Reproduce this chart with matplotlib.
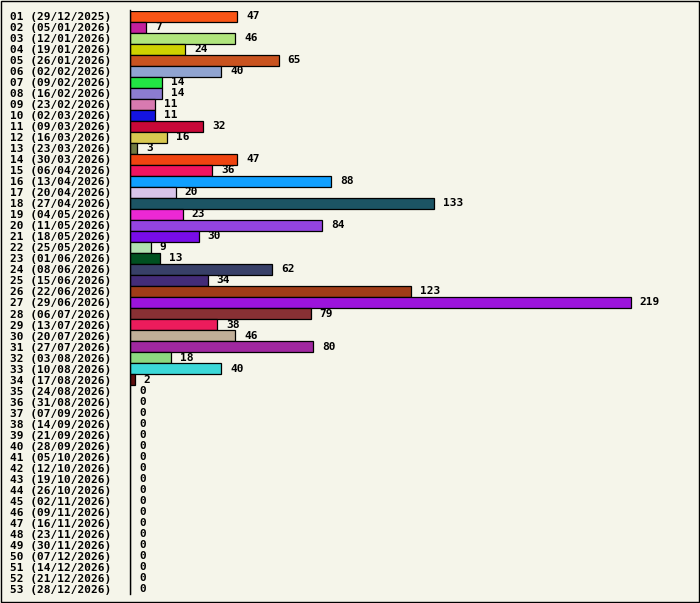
import matplotlib
matplotlib.use("Agg")
import matplotlib.pyplot as plt
from matplotlib.patches import Rectangle

# weekly counts, week 01 .. 53
weeks = ["01 (29/12/2025)", "02 (05/01/2026)", "03 (12/01/2026)", "04 (19/01/2026)",
         "05 (26/01/2026)", "06 (02/02/2026)", "07 (09/02/2026)", "08 (16/02/2026)",
         "09 (23/02/2026)", "10 (02/03/2026)", "11 (09/03/2026)", "12 (16/03/2026)",
         "13 (23/03/2026)", "14 (30/03/2026)", "15 (06/04/2026)", "16 (13/04/2026)",
         "17 (20/04/2026)", "18 (27/04/2026)", "19 (04/05/2026)", "20 (11/05/2026)",
         "21 (18/05/2026)", "22 (25/05/2026)", "23 (01/06/2026)", "24 (08/06/2026)",
         "25 (15/06/2026)", "26 (22/06/2026)", "27 (29/06/2026)", "28 (06/07/2026)",
         "29 (13/07/2026)", "30 (20/07/2026)", "31 (27/07/2026)", "32 (03/08/2026)",
         "33 (10/08/2026)", "34 (17/08/2026)", "35 (24/08/2026)", "36 (31/08/2026)",
         "37 (07/09/2026)", "38 (14/09/2026)", "39 (21/09/2026)", "40 (28/09/2026)",
         "41 (05/10/2026)", "42 (12/10/2026)", "43 (19/10/2026)", "44 (26/10/2026)",
         "45 (02/11/2026)", "46 (09/11/2026)", "47 (16/11/2026)", "48 (23/11/2026)",
         "49 (30/11/2026)", "50 (07/12/2026)", "51 (14/12/2026)", "52 (21/12/2026)",
         "53 (28/12/2026)"]

counts = [47, 7, 46, 24, 65, 40, 14, 14, 11, 11, 32, 16, 3, 47, 36, 88, 20, 133,
          23, 84, 30, 9, 13, 62, 34, 123, 219, 79, 38, 46, 80, 18, 40, 2,
          0, 0, 0, 0, 0, 0, 0, 0, 0, 0, 0, 0, 0, 0, 0, 0, 0, 0, 0]

colours = ["#f95516", "#c4209c", "#b0e57c", "#cfd200", "#c9531f", "#90a4d0",
           "#22e644", "#8c7cd0", "#d87ab0", "#1414e0", "#c80838", "#d8c850",
           "#707840", "#f04410", "#f01460", "#10a0ff", "#d8c4e8", "#1c5464",
           "#ec28d4", "#9444e0", "#780ce8", "#b0e0b0", "#005020", "#384068",
           "#442c78", "#a03c18", "#9c14dc", "#883034", "#ec1c5c", "#c0ae98",
           "#a028a0", "#8cd880", "#3cd8d8", "#601010"]
colours = colours + ["#000000"] * (len(counts) - len(colours))

BG = "#f5f5ea"
W, H = 700, 603

fig = plt.figure(figsize=(W / 100, H / 100), dpi=100, facecolor=BG)
# axes placed in pixel terms: zero line at x=130, rows from y=10.5 to 594.5
ax = fig.add_axes([130 / W, (H - 594.5) / H, 560.3 / W, 584 / H])
ax.set_facecolor(BG)

ypos = list(range(len(counts)))
bars = ax.barh(ypos, counts, height=1.0, color=colours,
               edgecolor="black", linewidth=0.9)

ax.set_xlim(0, 245)
ax.set_ylim(len(counts) - 0.5, -0.5)

for side in ["top", "right", "bottom"]:
    ax.spines[side].set_visible(False)
ax.spines["left"].set_linewidth(1.0)
ax.spines["left"].set_color("black")

ax.set_xticks([])
ax.set_yticks(ypos)
ax.set_yticklabels(weeks, family="DejaVu Sans Mono", fontweight="bold",
                   fontsize=8.0, ha="left")
ax.tick_params(axis="y", length=0, pad=86.4)

ax.bar_label(bars, labels=[str(v) for v in counts], padding=6.5,
             family="DejaVu Sans Mono", fontweight="bold", fontsize=8.0)

# outer frame
fig.patches.append(Rectangle((0.5 / W, 1.5 / H), 698 / W, 601 / H,
                             transform=fig.transFigure, fill=False,
                             edgecolor="black", linewidth=1.0))

fig.savefig("out.png", dpi=100, facecolor=BG)
